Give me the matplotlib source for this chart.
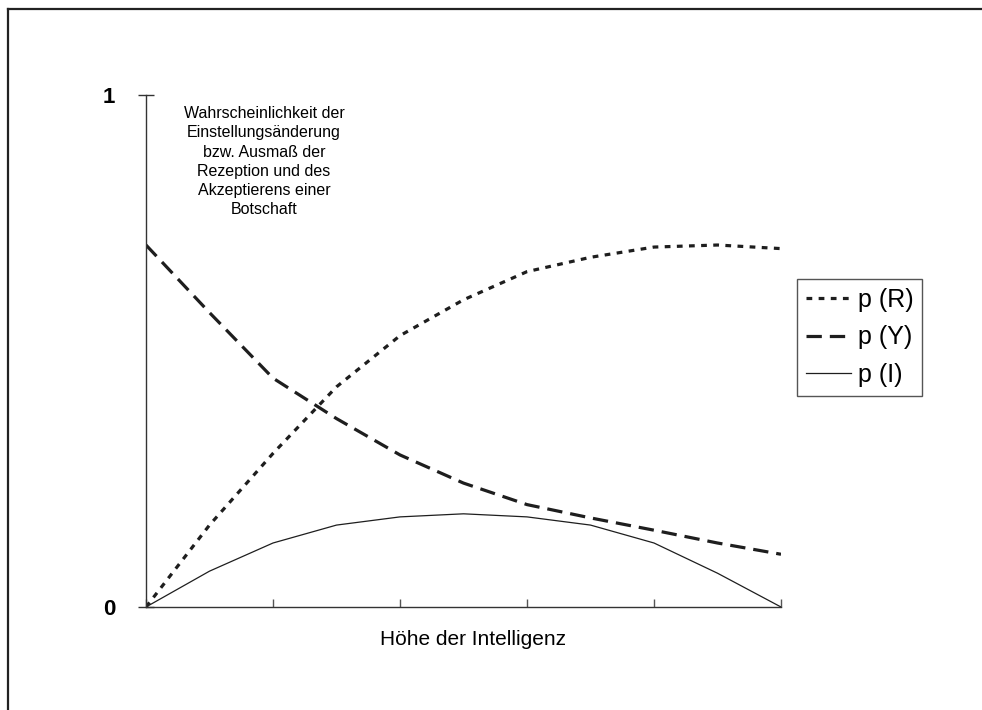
import matplotlib
matplotlib.use("Agg")
import matplotlib.pyplot as plt
from matplotlib.lines import Line2D

plt.rcParams['font.family'] = ['Liberation Sans', 'DejaVu Sans']

# intelligence level (arbitrary units, ticks every 1)
x_vals = [0, 0.5, 1, 1.5, 2, 2.5, 3, 3.5, 4, 4.5, 5]
p_r = [0.0, 0.16, 0.30, 0.43, 0.53, 0.60, 0.655, 0.683, 0.703, 0.707, 0.70]
p_y = [0.707, 0.575, 0.447, 0.368, 0.297, 0.242, 0.200, 0.174, 0.150, 0.125, 0.103]
p_i = [0.0, 0.07, 0.125, 0.160, 0.176, 0.182, 0.176, 0.160, 0.125, 0.066, 0.0]

series_labels = ['p (R)', 'p (Y)', 'p (I)']
y_ticks = [0, 1]
y_tick_labels = ['0', '1']
x_ticks = [0, 1, 2, 3, 4, 5]
x_label = 'Höhe der Intelligenz'
note = ('Wahrscheinlichkeit der\nEinstellungsänderung\nbzw. Ausmaß der\n'
        'Rezeption und des\nAkzeptierens einer\nBotschaft')

ink = '#1e1e1e'

fig = plt.figure(figsize=(9.82, 7.10), dpi=100)
ax = fig.add_axes([146 / 982, 1 - 607 / 710, 635 / 982, 512 / 710])

ax.plot(x_vals, p_r, color=ink, lw=2.3, linestyle=(0, (1.8, 2.0)), label=series_labels[0])
ax.plot(x_vals, p_y, color=ink, lw=2.3, linestyle=(0, (4.8, 2.5)), label=series_labels[1])
ax.plot(x_vals, p_i, color=ink, lw=0.9, label=series_labels[2])

ax.set_xlim(0, 5)
ax.set_ylim(0, 1)
for side in ['top', 'right']:
    ax.spines[side].set_visible(False)
for side in ['left', 'bottom']:
    ax.spines[side].set_color('#333333')
    ax.spines[side].set_linewidth(1.0)

ax.set_xticks(x_ticks)
ax.set_xticklabels([])
ax.tick_params(axis='x', direction='in', length=6, width=1, color='#555555')
ax.set_yticks(y_ticks)
ax.set_yticklabels(y_tick_labels, fontsize=16, fontweight='bold')
ax.tick_params(axis='y', direction='inout', length=12, width=1, color='#333333', pad=16)

ax.set_xlabel(x_label, fontsize=15, va='baseline')
ax.xaxis.set_label_coords(0.515, -0.0742)

ax.text(0.93, 0.978, note, ha='center', va='top', fontsize=11.5, linespacing=1.35)

leg = ax.legend(loc='upper left', bbox_to_anchor=(797 / 982, 1 - 279 / 710),
                bbox_transform=fig.transFigure, borderaxespad=0, fancybox=False,
                fontsize=18, handlelength=1.8, handletextpad=0.28, labelspacing=0.55,
                borderpad=0.35, framealpha=1)
leg.get_frame().set_edgecolor('#555555')
leg.get_frame().set_linewidth(1.0)

# page border (only top and left are visible in the crop)
fig.add_artist(Line2D([8 / 982, 1], [1 - 9 / 710, 1 - 9 / 710], color='#222222', lw=1.6,
                      transform=fig.transFigure))
fig.add_artist(Line2D([8 / 982, 8 / 982], [0, 1 - 9 / 710], color='#222222', lw=1.6,
                      transform=fig.transFigure))

fig.savefig('out.png', dpi=100)
